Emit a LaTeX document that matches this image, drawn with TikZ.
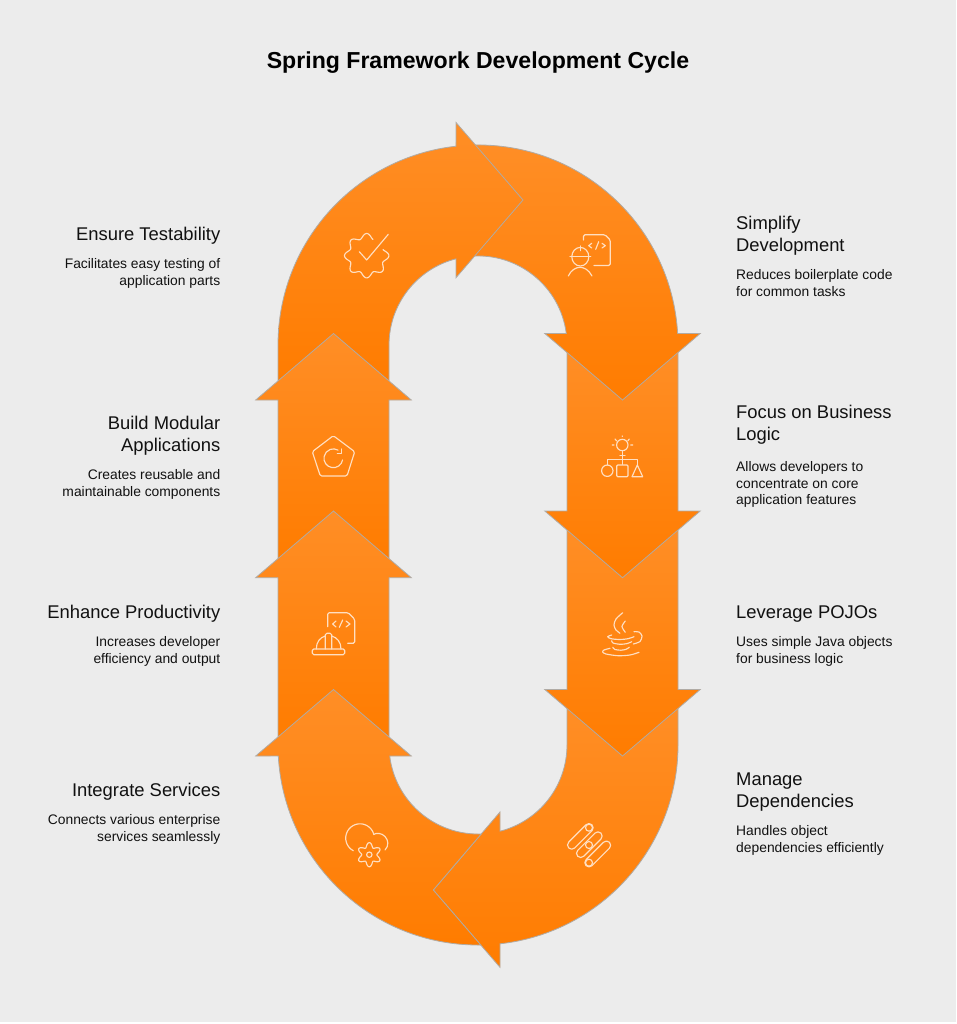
\documentclass[tikz,border=0pt]{standalone}
\usepackage{fontspec}
\setmainfont{Liberation Sans}
\definecolor{bgc}{HTML}{ECECEC}
\definecolor{orlight}{HTML}{FF8E26}
\definecolor{ordark}{HTML}{FF7C00}
\definecolor{edgec}{HTML}{B0ABA5}
\definecolor{iconc}{HTML}{FFDFC2}
\definecolor{inkc}{HTML}{111111}
\tikzset{
  segment/.style={draw=edgec,line width=0.8pt,top color=orlight,bottom color=ordark,line join=miter},
  icon/.style={draw=iconc,line width=1.15pt,line cap=round,line join=round},
  titletext/.style={inner sep=0pt,text=black,font=\fontsize{23.1}{28}\selectfont\bfseries},
  headleft/.style={inner sep=0pt,anchor=north east,align=right,text=inkc,font=\fontsize{18.4}{22.5}\selectfont},
  headright/.style={inner sep=0pt,anchor=north west,align=left,text=inkc,font=\fontsize{18.4}{22.5}\selectfont},
  descleft/.style={inner sep=0pt,anchor=north east,align=right,text=inkc,font=\fontsize{13.85}{16.8}\selectfont},
  descright/.style={inner sep=0pt,anchor=north west,align=left,text=inkc,font=\fontsize{13.85}{16.8}\selectfont},
}
\newcommand{\firstline}{\rule{0pt}{1em}}
\newcommand{\capsuleshape}[4]{% x y length radius
  \begin{scope}[shift={(#1,#2)},rotate=45]
    \draw[icon] (0,#4) -- (#3,#4) arc[start angle=90,end angle=-90,radius=#4] -- (0,-#4) arc[start angle=-90,end angle=-270,radius=#4] -- cycle;
  \end{scope}}
\begin{document}
\begin{tikzpicture}[x=1pt,y=-1pt]
\useasboundingbox (0,0) rectangle (956,1024);
\fill[white] (0,0) rectangle (956,1024);
\fill[bgc] (0,0) rectangle (956,1022);

% --- ring segments
% Manage Dependencies
\path[segment] (678,706) -- (678,745) arc[start angle=0,end angle=83.68,radius=200] -- (500,967.3) -- (433.3,890) -- (500,812) -- (500,831.2) arc[start angle=75.68,end angle=0,radius=89] -- (567,706) -- cycle;
% Leverage POJOs
\path[segment] (567,528) -- (678,528) -- (678,689.5) -- (700.2,689.5) -- (622.5,756) -- (544.8,689.5) -- (567,689.5) -- cycle;
% Focus
\path[segment] (567,350) -- (678,350) -- (678,511) -- (700.2,511) -- (622.5,577.7) -- (544.8,511) -- (567,511) -- cycle;
% Simplify
\path[segment] (471,145.1) arc[start angle=268,end angle=356.7,radius=200] -- (700.2,333.5) -- (622.5,400) -- (544.8,333.5) -- (566.3,333.5) arc[start angle=352.6,end angle=265,radius=89] -- cycle;
% Ensure
\path[segment] (278,382) -- (278,345) arc[start angle=180,end angle=263.68,radius=200] -- (456,122.5) -- (523,200) -- (456,277.7) -- (456,258.8) arc[start angle=255.68,end angle=180,radius=89] -- (389,382) -- cycle;
% Build
\path[segment] (333.5,333.5) -- (411.3,400) -- (389,400) -- (389,560) -- (278,560) -- (278,400) -- (255.7,400) -- cycle;
% Enhance
\path[segment] (333.5,511) -- (411.3,577.7) -- (389,577.7) -- (389,738) -- (278,738) -- (278,577.7) -- (255.7,577.7) -- cycle;
% Integrate
\path[segment] (333.5,689.5) -- (411.3,756) -- (389.7,756) arc[start angle=172.9,end angle=90,radius=89] -- (481.2,834) -- (433.3,890) -- (480.8,945) -- (478,945) arc[start angle=90,end angle=176.85,radius=200] -- (255.7,756) -- cycle;

% --- icons
% Ensure: badge and tick
\draw[icon] plot[smooth,domain=-21:291,samples=145] ({366.7+(19.8+2.4*cos(8*\x))*cos(\x)},{255.7+(19.8+2.4*cos(8*\x))*sin(\x)});
\draw[icon] (359.3,251.7) -- (366.7,260) -- (388.3,234.3);
% Simplify: engineer and code file
\draw[icon,rounded corners=1.5pt] (583.5,240) -- (583.5,234.7) -- (605,234.7) -- (610.3,240) -- (610.3,265.5) -- (594,265.5);
\draw[icon] (591.7,243.3) -- (588.7,245.7) -- (591.7,248) (598.7,241.7) -- (595.7,249.3) (602,243.3) -- (605.3,245.7) -- (602,248);
\draw[icon] (580.3,256.7) ellipse[x radius=8.5,y radius=9.3];
\draw[icon] (570,256.7) -- (590.7,256.7) (580.3,246) -- (580.3,250.7);
\draw[icon] (568.3,276) .. controls (571,270) and (576,267.3) .. (580,267.3) .. controls (584,267.3) and (589,270) .. (592,276);
% Focus: bulb and shapes
\draw[icon] (622.3,445) circle[radius=5.7];
\draw[icon] (620,455.7) -- (625,455.7) (622.3,451) -- (622.3,464.3);
\draw[icon] (622.3,436) -- (622.3,436.4) (615,439) -- (616.7,441) (629.3,439) -- (627.7,441) (612.3,445) -- (614,445) (630.7,445) -- (632.7,445);
\draw[icon] (607.3,465) -- (607.3,459.3) -- (637.3,459.3) -- (637.3,465);
\draw[icon] (607.3,470.7) circle[radius=5.7];
\draw[icon,rounded corners=1pt] (616.7,465) rectangle (628,476.7);
\draw[icon] (637.3,465) -- (632,476.7) -- (642.7,476.7) -- cycle;
% POJOs: coffee cup
\draw[icon] plot[smooth] coordinates {(622.7,612.7) (616,619) (614,625) (616,630) (620,633.3)};
\draw[icon] plot[smooth] coordinates {(625.3,621) (622,626.5) (625.3,632.3)};
\draw[icon] plot[smooth] coordinates {(611.7,635) (607.7,636.7) (611,638.7) (620,639.5) (628,638.7) (634,636.7)};
\draw[icon] plot[smooth] coordinates {(611.7,640.7) (613,643) (620,644.3) (627,643.6) (631.7,641.7)};
\draw[icon] plot[smooth] coordinates {(612.7,647.3) (615,649.5) (621,650.2) (626,649.3) (629.3,647.3)};
\draw[icon] plot[smooth] coordinates {(610,648.3) (604,650) (602.7,652) (606,654) (618,655.7) (630,655) (639,652.3)};
\draw[icon] plot[smooth] coordinates {(634,631.7) (639,632) (642,636) (640,641.5) (633.3,644)};
% Manage: capsules
\capsuleshape{571.7}{845}{24.4}{4.2}
\capsuleshape{580.7}{853.3}{24.4}{4.2}
\capsuleshape{589}{862.7}{24.7}{4.2}
\draw[icon] (589,827.7) circle[radius=3.5] (589,845) circle[radius=3.5] (589,862.7) circle[radius=3.5];
% Integrate: cloud and gear
\draw[icon] (353.3,850.7) arc[start angle=118,end angle=342,radius=14.3];
\draw[icon] (373.6,834.5) .. controls (376,832.5) and (382,833) .. (385,836.5) .. controls (388.5,840) and (389,846) .. (385,850);
\draw[icon] plot[smooth,domain=0:360,samples=73] ({369.3+(9.8+2.3*cos(6*(\x+90)))*cos(\x)},{854.7+(9.8+2.3*cos(6*(\x+90)))*sin(\x)});
\draw[icon] (369.3,854.7) circle[radius=2.7];
% Enhance: hard hat and code file
\draw[icon,rounded corners=1.5pt] (327.7,626.7) -- (327.7,612.7) -- (348.3,612.7) -- (354.7,619.3) -- (354.7,643.3) -- (347.7,643.3);
\draw[icon] (336,621) -- (332.7,624) -- (336,627) (342.7,620) -- (339.3,627.3) (346,621) -- (350,624) -- (346,627);
\draw[icon,rounded corners=1.5pt] (312.3,649) rectangle (344.7,654.7);
\draw[icon] (316.3,649) .. controls (316.3,642) and (320,637.5) .. (325.3,636) (331.7,636) .. controls (337,637.5) and (341,642) .. (341,649);
\draw[icon,rounded corners=1.5pt] (325.3,649) -- (325.3,633.3) -- (331.7,633.3) -- (331.7,649);
% Build: pentagon and arrow
\draw[icon,rounded corners=1.5pt] (333.3,435.7) -- (354.7,451.7) -- (347,476) -- (320.3,476) -- (312.3,451.7) -- cycle;
\draw[icon] (342.6,459.9) arc[start angle=10,end angle=300,radius=9.4];
\draw[icon] (341.7,449) -- (341.7,453.3) -- (337.3,453.3);

% --- text
\node[titletext] (title) at (478,63) {Spring Framework Development Cycle};

\node[headleft] (h1) at (220.5,221.7) {\firstline Ensure Testability};
\node[descleft] (d1) at (220.5,254.2) {\firstline Facilitates easy testing of\\application parts};
\node[headleft] (h2) at (220.5,410.7) {\firstline Build Modular\\Applications};
\node[descleft] (d2) at (220.5,465.2) {\firstline Creates reusable and\\maintainable components};
\node[headleft] (h3) at (220.5,599.7) {\firstline Enhance Productivity};
\node[descleft] (d3) at (220.5,632.2) {\firstline Increases developer\\efficiency and output};
\node[headleft] (h4) at (220.5,777.7) {\firstline Integrate Services};
\node[descleft] (d4) at (220.5,810.2) {\firstline Connects various enterprise\\services seamlessly};

\node[headright] (h5) at (736,210.7) {\firstline Simplify\\Development};
\node[descright] (d5) at (736,265.2) {\firstline Reduces boilerplate code\\for common tasks};
\node[headright] (h6) at (736,399.7) {\firstline Focus on Business\\Logic};
\node[descright] (d6) at (736,457.2) {\firstline Allows developers to\\concentrate on core\\application features};
\node[headright] (h7) at (736,599.7) {\firstline Leverage POJOs};
\node[descright] (d7) at (736,632.2) {\firstline Uses simple Java objects\\for business logic};
\node[headright] (h8) at (736,766.7) {\firstline Manage\\Dependencies};
\node[descright] (d8) at (736,821.2) {\firstline Handles object\\dependencies efficiently};
\end{tikzpicture}
\end{document}
